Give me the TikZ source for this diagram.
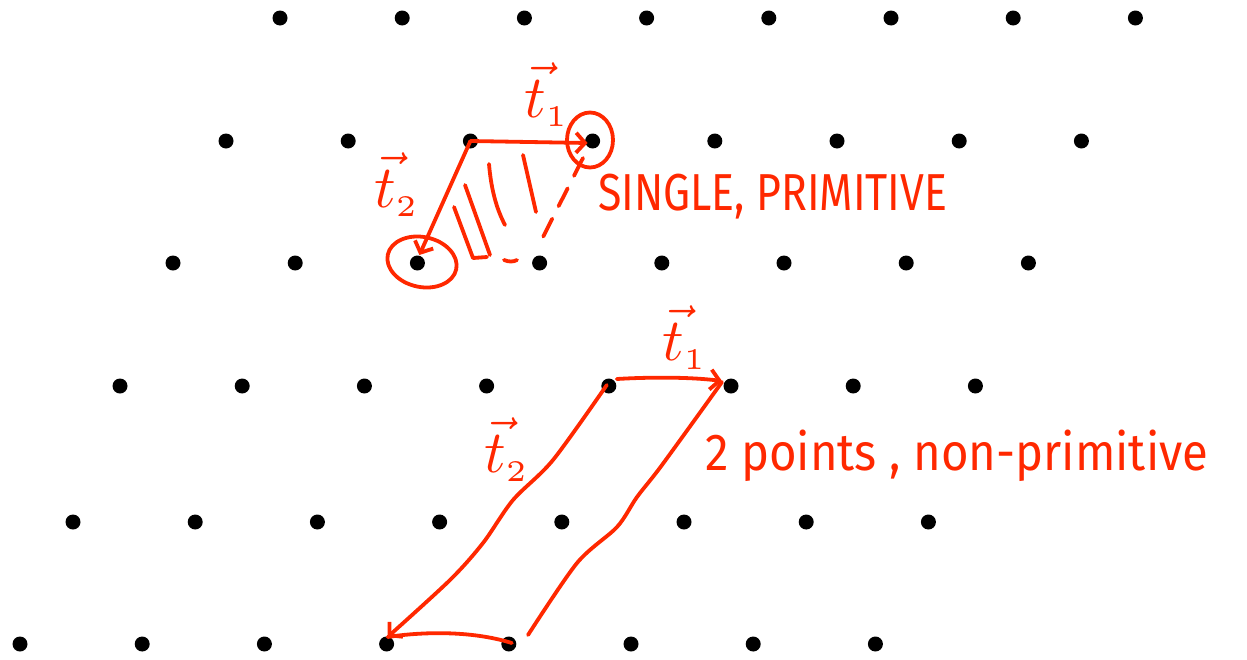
\documentclass[tikz,border=0pt]{standalone}
\usepackage{fontspec}
\usepackage{graphicx}
\newfontfamily\handfont{Fira Sans}
\usetikzlibrary{arrows.meta,calc,shapes.geometric}
\definecolor{ink}{RGB}{255,40,0}
\newcommand{\tvec}[1]{\scalebox{6}{$\vec{t}_{\scriptscriptstyle #1}$}}
\begin{document}
\begin{tikzpicture}[x=1pt,y=-1pt,
  dot/.style={circle,fill=black,inner sep=0pt,minimum size=15pt},
  pen/.style={draw=ink,line width=3.8pt,line cap=round,line join=round},
  barb/.style={-{Straight Barb[length=9pt,width=20pt,line width=3.8pt]}},
  ring/.style={ellipse,draw=ink,line width=3.8pt,inner sep=0pt},
  vlabel/.style={text=ink,inner sep=0pt,anchor=base west},
  hand/.style={text=ink,inner sep=0pt,anchor=base west,font=\handfont\fontsize{52}{60}\selectfont}]
\useasboundingbox (0,0) rectangle (1247,659);
% lattice
\foreach \r/\y/\xo in {1/18/280,2/141/226,3/263/173,4/386/120,5/522/73,6/644/20}
  \foreach \c in {0,...,7}
    \node[dot] (d\r-\c) at ({\xo+\c*122.2},\y) {};
% ---------- single primitive cell ----------
\node[ring,minimum width=46pt,minimum height=55pt] (c1) at (590,140) {};
\node[ring,minimum width=70pt,minimum height=50pt,rotate=-12] (c2) at (422,262) {};
\draw[pen,barb] (d2-2.center) -- ($(d2-3.center)+(-5,2)$);
\draw[pen,barb] (d2-2.center) -- ($(d3-2.center)+(2,-8)$);
% hatching
\draw[pen] (454,207) -- (473,258) -- (487,257);
\draw[pen] (465,185) -- (490,255);
\draw[pen] (489,164) .. controls (491,188) and (496,208) .. (505,225);
\draw[pen] (523,155) -- (536,212);
\draw[pen] (504,260) .. controls (509,262) and (513,262) .. (517,260);
\draw[pen,dash pattern=on 20pt off 14pt] (583,158) -- (543,237);
% labels
\node[vlabel] (t1a) at (524,117) {\tvec{1}};
\node[vlabel] (t2a) at (374,207) {\tvec{2}};
\node[hand] (lab1) at (598,210) {\resizebox{349pt}{\height}{SINGLE, PRIMITIVE}};
% ---------- non-primitive cell ----------
\coordinate (s1) at ($(d4-4.center)+(8,-7)$);
\coordinate (e1) at ($(d4-5.center)+(-9,-5)$);
\draw[pen,barb] (s1) .. controls (650,377) and (690,377) .. (e1);
\coordinate (s2) at ($(d4-4.center)+(-2,-1)$);
\coordinate (e2) at ($(d6-3.center)+(1,-7)$);
\draw[pen,barb] plot[smooth,tension=0.5] coordinates {(s2) (553,460) (513,500) (483,543) (450,580) (e2)};
\coordinate (s3) at ($(d4-5.center)+(-9,-4)$);
\draw[pen] plot[smooth,tension=0.5] coordinates {(s3) (662,465) (637,497) (617,527) (577,563) (528,635)};
\draw[pen] (e2) .. controls (420,632) and (470,630) .. ($(d6-4.center)+(3,-1)$);
\node[vlabel] (t1b) at (662,360) {\tvec{1}};
\node[vlabel] (t2b) at (484,472) {\tvec{2}};
\node[hand] (lab2) at (705,470) {\resizebox{503pt}{\height}{2 points , non-primitive}};
\end{tikzpicture}
\end{document}
